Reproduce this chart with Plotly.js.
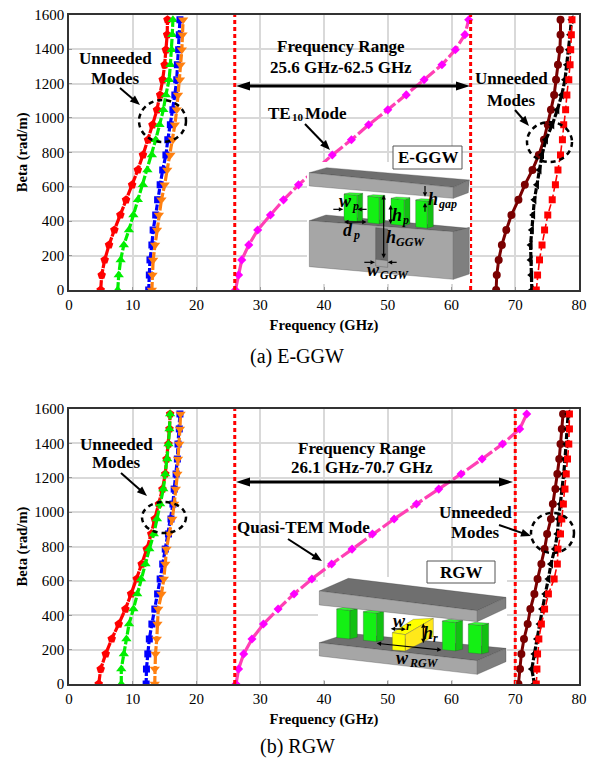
<!DOCTYPE html>
<html><head><meta charset="utf-8">
<script src="https://cdn.plot.ly/plotly-3.0.0.min.js"></script>
<style>html,body{margin:0;padding:0;background:#fff}</style></head>
<body><div id="chart" style="width:594px;height:762px"></div>
<script>
const beta = [0,87,175,262,349,436,524,611,698,785,873,960,1047,1134,1222,1309,1396,1484,1571];
const xTicks = [0,10,20,30,40,50,60,70,80];
const yTicks = [0,200,400,600,800,1000,1200,1400,1600];

const eRed = [4.97,5.13,5.6,6.28,7.12,8.06,8.95,9.9,10.8,11.6,12.4,13.1,13.8,14.3,14.7,15.0,15.2,15.4,15.45];
const eGreen = [7.64,7.8,8.1,8.6,9.4,10.1,10.8,11.6,12.3,13,13.6,14.2,14.8,15.2,15.7,15.9,16.1,16.2,16.3];
const eBlue = [12.5,12.6,12.7,13,13.2,13.6,13.9,14.3,14.7,15.2,15.5,15.9,16.3,16.6,16.9,17,17.2,17.3,17.4];
const eOrange = [13,13.1,13.2,13.5,13.8,14.1,14.5,15,15.4,15.9,16.3,16.6,16.9,17.1,17.4,17.5,17.7,17.8,17.9];
const eMagenta = [26.1,26.6,27.1,28.2,29.6,31.6,33.65,36,38.6,41.3,44.3,47,50,52.9,55.7,58.5,60.6,62.1,62.7];
const eMaroon = [67,67.1,67.4,67.9,68.6,69.4,70.5,71.5,72.7,73.7,74.5,75.1,75.6,76.1,76.4,76.7,77,77.1,77.1];
const eBlack = [72.6,72.5,72.4,72.4,72.6,72.8,73,73.4,73.8,74.2,74.8,75.8,76.6,77.3,77.8,78.1,78.4,78.6,78.8];
const eSquare = [73.3,73.5,73.8,74.2,74.6,75.1,75.8,76.3,76.7,77.1,77.4,77.6,77.9,78.1,78.4,78.6,78.7,78.8,78.9];

const rRed = [4.66,4.97,5.76,6.7,7.8,8.85,9.74,10.63,11.4,12.2,12.9,13.45,14.1,14.66,15.1,15.3,15.6,15.76,15.86];
const rGreen = [8.2,8.2,8.6,9,9.42,10.1,10.7,11.3,12,12.6,13.3,13.8,14.3,14.8,15.1,15.4,15.6,15.76,15.86];
const rBlue = [12.1,12.15,12.36,12.6,13,13.46,13.9,14.3,14.7,15.1,15.6,16,16.3,16.5,16.8,17,17.1,17.3,17.4];
const rOrange = [13.45,13.45,13.56,13.77,13.87,14,14.5,14.87,15.1,15.3,15.7,16.2,16.5,16.75,17,17.1,17.3,17.4,17.5];
const rMagenta = [26.2,26.6,27.4,28.7,30.5,32.8,35.3,38.1,41.2,44.4,47.6,51,54.5,58,61.5,64.8,68,70.7,71.8];
const rMaroon = [70.5,70.75,70.96,71.37,71.95,72.37,73,73.5,74.1,74.6,75,75.6,75.9,76.3,76.6,76.9,77.1,77.3,77.5];
const rBlack = [73,72.6,73,73.4,73.8,74.2,74.7,75.2,75.6,76.2,76.6,76.8,77.1,77.4,77.6,77.8,78,78.2,78.3];
const rSquare = [73.3,73.4,73.5,73.7,74.1,74.6,75.2,76.1,76.6,76.7,77.1,77.3,77.55,77.8,78,78.2,78.4,78.5,78.5];

const eBandX = [26,63];
const rBandX = [26,70];
const bandY = [0,1600];

const W=594,H=762, SERIF='"Liberation Serif","Times New Roman",serif';
const px=x=>x/W, py=y=>1-y/H;

const styles = [
 {c:'#ff0000',lc:'#ff0000',s:'pentagon',d:'10px,1px',w:3.2,ms:9},
 {c:'#00ee00',lc:'#00ee00',s:'triangle-up',d:'8px,2px',w:3.2,ms:9},
 {c:'#0000ff',lc:'#0000ff',s:'square',d:'6px,2px',w:3.2,ms:7},
 {c:'#ff8010',lc:'#ff8010',s:'triangle-down',d:'8px,2px',w:3.2,ms:9},
 {c:'#ff00ff',lc:'#ff40b4',s:'diamond',d:'14px,3px',w:3.2,ms:7},
 {c:'#7a0000',lc:'#7a0000',s:'circle',d:'solid',w:3,ms:8},
 {c:'#000000',lc:'#000000',s:'triangle-left',d:'6px,2px',w:3.2,ms:8},
 {c:'#ff0000',lc:'#ff0000',s:'square',d:'7px,3px',w:1.6,ms:7},
];
function panel(series,band,xa,ya){
  const out=[];
  series.forEach((v,i)=>{const st=styles[i];
    out.push({x:v,y:beta,xaxis:xa,yaxis:ya,type:'scatter',mode:'lines+markers',showlegend:false,
      line:{color:st.lc,width:st.w,dash:st.d},marker:{color:st.c,symbol:st.s,size:st.ms,line:{width:0}}});});
  band.forEach(b=>out.push({x:[b,b],y:bandY,xaxis:xa,yaxis:ya,type:'scatter',mode:'lines',showlegend:false,
      line:{color:'#ff0000',width:3,dash:'4px,3px'}}));
  return out;
}
const data=[...panel([eRed,eGreen,eBlue,eOrange,eMagenta,eMaroon,eBlack,eSquare],eBandX,'x','y'),
            ...panel([rRed,rGreen,rBlue,rOrange,rMagenta,rMaroon,rBlack,rSquare],rBandX,'x2','y2')];

const shapes=[],ann=[];
function polyPx(pts,fill,line){
  const d=pts.map((p,i)=>(i?'L':'M')+px(p[0]).toFixed(5)+','+py(p[1]).toFixed(5)).join(' ')+' Z';
  shapes.push({type:'path',xref:'paper',yref:'paper',path:d,fillcolor:fill,line:line||{width:0},layer:'above'});
}
function poly(conv,pts,fill){ polyPx(pts.map(conv),fill,{color:'rgba(60,60,60,0.6)',width:0.5}); }
function rect(x0,y0,x1,y1,fill,line){
  shapes.push({type:'rect',xref:'paper',yref:'paper',x0:px(x0),x1:px(x1),y0:py(y0),y1:py(y1),fillcolor:fill,
    line:line||{width:0},layer:'above'});
}
function ell(x0,y0,x1,y1){
  shapes.push({type:'circle',xref:'paper',yref:'paper',x0:px(x0),x1:px(x1),y0:py(y0),y1:py(y1),
    line:{color:'#000',width:2.5,dash:'5px,4px'},layer:'above'});
}
function txt(x,y,t,size,opt){
  ann.push(Object.assign({xref:'paper',yref:'paper',x:px(x),y:py(y),text:t,showarrow:false,xanchor:'center',yanchor:'middle',
    font:{family:SERIF,size:size,color:'#000'}},opt||{}));
}
/* main letter plus a smaller subscript, as two separate texts joined at x */
function subT(x,y,m,s,size,subSize){
  txt(x,y,m,size,{xanchor:'right',borderpad:0,borderwidth:0});
  txt(x,y+Math.round(size*0.3),s,subSize,{xanchor:'left',borderpad:0,borderwidth:0});
}
function head(x,y,ux,uy,len,hw){
  const bx=x-ux*len,by=y-uy*len;
  polyPx([[x,y],[bx-uy*hw,by+ux*hw],[bx+uy*hw,by-ux*hw]],'#000');
}
function arrow(x0,y0,x1,y1,width,len,hw,both){
  const n=Math.hypot(x1-x0,y1-y0),ux=(x1-x0)/n,uy=(y1-y0)/n;
  const sx=both?x0+ux*len*0.9:x0, sy=both?y0+uy*len*0.9:y0, ex=x1-ux*len*0.9, ey=y1-uy*len*0.9;
  shapes.push({type:'line',xref:'paper',yref:'paper',x0:px(sx),y0:py(sy),x1:px(ex),y1:py(ey),line:{color:'#000',width:width},layer:'above'});
  head(x1,y1,ux,uy,len,hw);
  if(both) head(x0,y0,-ux,-uy,len,hw);
}
const B=t=>'<b>'+t+'</b>';
const BI=t=>'<b><i>'+t+'</i></b>';

/* ---- E-GGW inset ---- */
const a=p=>[220+p[0]/3,130+p[1]/3];
rect(307,162,470,284,'#ffffff');
const gT='#6f6f6f',gF='#a6a6a6',gS='#7f7f7f';
poly(a,[[268,272],[318,255],[748,295],[700,305]],gT);
poly(a,[[268,272],[700,305],[700,448],[268,410]],gF);
poly(a,[[700,305],[748,292],[748,432],[700,448]],gS);
poly(a,[[467,293],[503,297],[503,392],[467,388]],'#6a6a6a');
poly(a,[[467,388],[503,392],[503,412],[467,408]],'#a6a6a6');
[[372,412,428,192,275],[443,478,495,198,282],[513,553,570,205,287],[587,622,640,210,295]].forEach(q=>{
  poly(a,[[q[0],q[3]],[q[1],q[3]+4],[q[1],q[4]],[q[0],q[4]-4]],'#14f014');
  poly(a,[[q[1],q[3]+4],[q[2],q[3]-2],[q[2],q[4]-5],[q[1],q[4]]],'#12c012');
  poly(a,[[q[0],q[3]],[q[0]+16,q[3]-4],[q[2],q[3]-2],[q[1],q[3]+4]],'#30ff30');
});
poly(a,[[268,128],[320,113],[748,150],[700,172]],gT);
poly(a,[[268,128],[700,172],[700,205],[268,168]],gF);
poly(a,[[700,172],[748,150],[745,188],[700,205]],gS);
const aArrow=(x0,y0,x1,y1,both)=>{const s=a([x0,y0]),e=a([x1,y1]);arrow(s[0],s[1],e[0],e[1],1.2,4.5,2.2,both);};
aArrow(340,238,370,238);aArrow(440,238,412,238);aArrow(372,276,440,276,true);aArrow(512,225,512,282,true);
aArrow(491,195,491,385,true);aArrow(615,168,615,200);aArrow(615,245,615,218);aArrow(433,397,465,397);aArrow(530,397,503,397);
const aT=(x,y,m,s)=>{const c=a([x,y]);subT(c[0],c[1],BI(m),BI(s),18,12);};
aT(395,212,'w','p');aT(545,256,'h','p');aT(400,300,'d','p');aT(655,206,'h','gap');aT(528,320,'h','GGW');aT(480,420,'w','GGW');
rect(393,146,462,169,'#ffffff',{color:'#555',width:1});
txt(427.5,157.5,B('E-GGW'),17);

/* ---- RGW inset ---- */
const b=p=>[220+p[0]/3,540+p[1]/3];
rect(318,577,507,680,'#ffffff');
poly(b,[[298,308],[385,280],[858,325],[772,362]],gT);
poly(b,[[298,308],[772,362],[772,403],[298,348]],gF);
poly(b,[[772,362],[858,325],[858,365],[772,403]],gS);
[[350,390,412,207,297],[430,470,491,215,305]].forEach(q=>{
  poly(b,[[q[0],q[3]],[q[1],q[3]+4],[q[1],q[4]],[q[0],q[4]-4]],'#14f014');
  poly(b,[[q[1],q[3]+4],[q[2],q[3]-2],[q[2],q[4]-5],[q[1],q[4]]],'#12c012');
  poly(b,[[q[0],q[3]],[q[0]+20,q[3]-5],[q[2],q[3]-2],[q[1],q[3]+4]],'#30ff30');
});
poly(b,[[517,278],[580,238],[640,235],[556,284]],'#ffff00');
poly(b,[[517,278],[556,284],[556,333],[517,330]],'#ffff00');
poly(b,[[556,284],[640,235],[640,290],[556,333]],'#ffe81a');
[[667,707,728,243,333],[745,785,806,252,342]].forEach(q=>{
  poly(b,[[q[0],q[3]],[q[1],q[3]+4],[q[1],q[4]],[q[0],q[4]-4]],'#14f014');
  poly(b,[[q[1],q[3]+4],[q[2],q[3]-2],[q[2],q[4]-5],[q[1],q[4]]],'#12c012');
  poly(b,[[q[0],q[3]],[q[0]+20,q[3]-5],[q[2],q[3]-2],[q[1],q[3]+4]],'#30ff30');
});
poly(b,[[298,153],[385,115],[858,172],[772,212]],gT);
poly(b,[[298,153],[772,212],[772,245],[298,195]],gF);
poly(b,[[772,212],[858,172],[858,205],[772,245]],gS);
const bArrow=(x0,y0,x1,y1,both)=>{const s=b([x0,y0]),e=b([x1,y1]);arrow(s[0],s[1],e[0],e[1],1.2,4.5,2.2,both);};
bArrow(512,266,558,268,true);bArrow(610,250,610,310,true);bArrow(470,310,665,330,true);
const bT=(x,y,m,s)=>{const c=b([x,y]);subT(c[0],c[1],BI(m),BI(s),18,12);};
bT(557,244,'w','r');bT(640,278,'h','r');bT(566,354,'w','RGW');
rect(427,561,495,583,'#ffffff',{color:'#555',width:1});
txt(461,572,B('RGW'),17);

/* ---- dashed ellipses ---- */
ell(139,100,186,142);ell(527,122,572,162);ell(142,502,186,533);ell(531,513,574,553);

/* ---- callouts ---- */
const S=17;
txt(115,58,B('Unneeded'),S);txt(115,79,B('Modes'),S);
txt(511,78,B('Unneeded'),S);txt(511,100,B('Modes'),S);
txt(116,444,B('Unneeded'),S);txt(116,463,B('Modes'),S);
txt(475,512,B('Unneeded'),S);txt(475,532,B('Modes'),S);
arrow(120,88,140,105,2,10,4);arrow(515,110,529,126,2,10,4);arrow(121,473,147,496,2,10,4);arrow(499,525,531,536,2,10,4);
txt(341,46,B('Frequency Range'),S);txt(341,67,B('25.6 GHz-62.5 GHz'),S);
txt(362,448,B('Frequency Range'),S);txt(362,467,B('26.1 GHz-70.7 GHz'),S);
arrow(236,86,470,86,3,14,4.5,true);arrow(236,482,513,482,3,14,4.5,true);
txt(279,113,B('TE'),S);txt(290,117,B('10'),11,{xanchor:'left'});txt(326,113,B('Mode'),S);
txt(303,527,B('Quasi-TEM Mode'),S);
arrow(305,124,330,150,2,10,4);arrow(288,539,322,561,2,10,4);
txt(297,356,'(a) E-GGW',20);txt(297,746,'(b) RGW',20);

function axX(dom,anchor){return {domain:dom,anchor:anchor,range:[0,80],tickvals:xTicks,ticktext:xTicks.map(String),
  showgrid:true,gridcolor:'#d9d9d9',gridwidth:1.5,zeroline:false,showline:true,linecolor:'#333',linewidth:1.5,mirror:true,
  ticks:'inside',ticklen:3,tickcolor:'#999',tickfont:{family:SERIF,size:15,color:'#000'},
  title:{text:B('Frequency (GHz)'),font:{family:SERIF,size:14.6,color:'#000'},standoff:8}};}
function axY(dom,anchor){return {domain:dom,anchor:anchor,range:[0,1600],tickvals:yTicks,ticktext:yTicks.map(String),
  showgrid:true,gridcolor:'#d9d9d9',gridwidth:1.5,zeroline:false,showline:true,linecolor:'#333',linewidth:1.5,mirror:true,
  ticks:'inside',ticklen:3,tickcolor:'#999',tickfont:{family:SERIF,size:15,color:'#000'},
  title:{text:B('Beta (rad/m)'),font:{family:SERIF,size:14.6,color:'#000'},standoff:3}};}
const xd=[69/W,579/W];
const layout={width:W,height:H,margin:{l:0,r:0,t:0,b:0},paper_bgcolor:'#fff',plot_bgcolor:'#fff',showlegend:false,
  xaxis:axX(xd,'y'),yaxis:axY([1-290/H,1-14.7/H],'x'),
  xaxis2:axX(xd,'y2'),yaxis2:axY([1-684/H,1-409/H],'x2'),
  shapes:shapes,annotations:ann};
Plotly.newPlot('chart',data,layout,{displayModeBar:false,responsive:false});
</script></body></html>
